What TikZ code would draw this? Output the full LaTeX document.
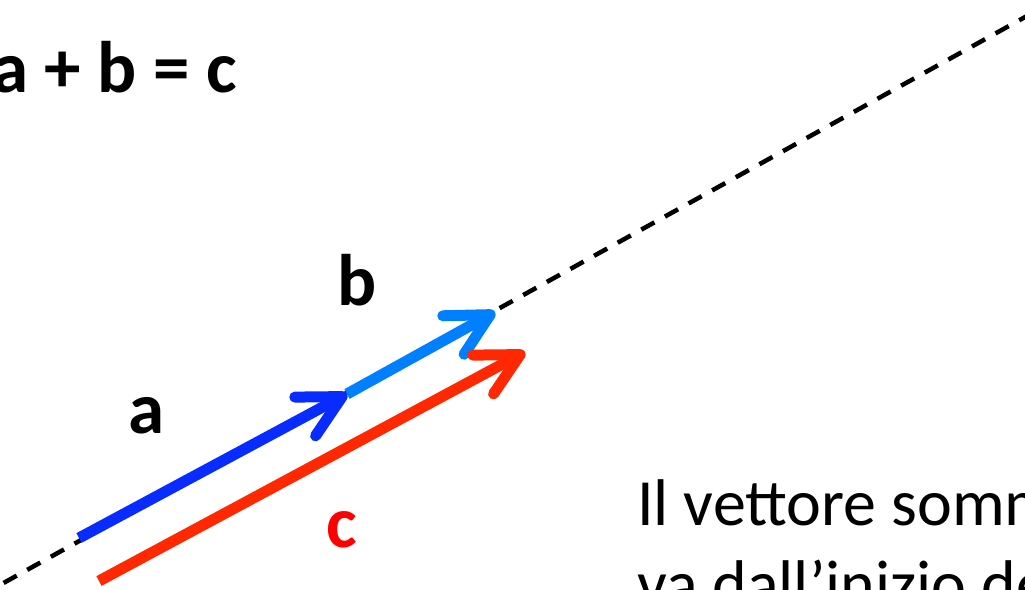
\documentclass[tikz,border=0pt]{standalone}
\usepackage{fontspec}
\setmainfont{Carlito}
\usetikzlibrary{arrows.meta}
\definecolor{vecA}{RGB}{8,44,255}
\definecolor{vecB}{RGB}{0,128,255}
\definecolor{vecC}{RGB}{255,40,0}
\definecolor{labC}{RGB}{255,0,0}
\tikzset{
  vec/.style={line width=11pt, -{Straight Barb[length=42pt,width=44pt,round]}},
  guide/.style={line width=4.5pt, dash pattern=on 15pt off 12pt},
  biglabel/.style={font=\fontsize{73}{86}\selectfont\bfseries, inner sep=0pt, anchor=base},
  bodytext/.style={font=\fontsize{66}{80}\selectfont, inner sep=0pt, anchor=base west},
}
\begin{document}
\begin{tikzpicture}[x=1pt,y=-1pt]
\useasboundingbox (0,0) rectangle (1025,589);
\clip (0,0) rectangle (1025,589);
\coordinate (D0) at (-20,596);
\coordinate (D1) at (1045,6);
\coordinate (O) at (79,538);
\coordinate (A) at (347,394);
\coordinate (B) at (495,312);
\coordinate (C0) at (99,581);
\coordinate (C1) at (525,352);
\draw[guide] (D0) -- (D1);
\draw[vec, vecA] (O) -- (A);
\draw[vec, vecB] (A) -- (B);
\draw[vec, vecC] (C0) -- (C1);
\node[biglabel, anchor=base west] (eq) at (-8,92) {a + b = c};
\node[biglabel] (la) at (147,433) {a};
\node[biglabel] (lb) at (357,305) {b};
\node[biglabel, text=labC] (lc) at (342,547) {c};
\node[bodytext] (t1) at (637,525) {Il vettore somma};
\node[bodytext] (t2) at (637,606) {va dall’inizio del};
\end{tikzpicture}
\end{document}
